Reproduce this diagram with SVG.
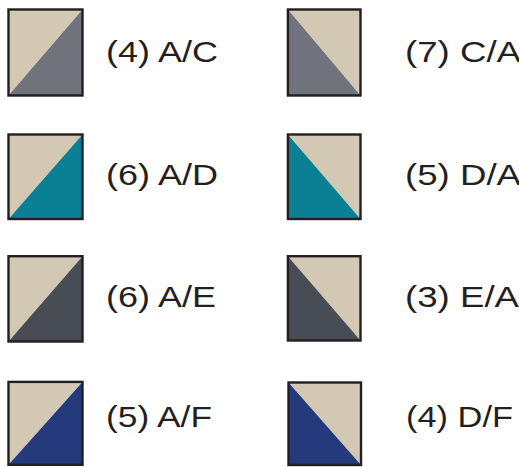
<svg xmlns="http://www.w3.org/2000/svg" width="519" height="467" viewBox="0 0 519 467">
<style>
.a{fill:#d3c8b4}
.c{fill:#70737c}
.d{fill:#0b7f93}
.e{fill:#474c55}
.f{fill:#243a7d}
.b{fill:none;stroke:#231f20;stroke-width:2.4}
.t{font-family:"Liberation Sans",Arial,sans-serif;font-size:29px;fill:#231f20}
</style>
<rect width="519" height="467" fill="#ffffff"/>
<g id="n1"><polygon class="a" points="8.5,9.5 82.5,9.5 8.5,95.5"/><polygon class="c" points="82.5,9.5 82.5,95.5 8.5,95.5"/><rect class="b" x="8.5" y="9.5" width="74" height="86"/><text class="t" x="106" y="62" textLength="112" lengthAdjust="spacingAndGlyphs">(4) A/C</text></g>
<g id="n2"><polygon class="a" points="287.9,9.5 360.5,9.5 360.5,95.5"/><polygon class="c" points="287.9,9.5 360.5,95.5 287.9,95.5"/><rect class="b" x="287.9" y="9.5" width="72.6" height="86"/><text class="t" x="405" y="62" textLength="116" lengthAdjust="spacingAndGlyphs">(7) C/A</text></g>
<g id="n3"><polygon class="a" points="8.5,134.5 82.5,134.5 8.5,219"/><polygon class="d" points="82.5,134.5 82.5,219 8.5,219"/><rect class="b" x="8.5" y="134.5" width="74" height="84.5"/><text class="t" x="106" y="184.5" textLength="112" lengthAdjust="spacingAndGlyphs">(6) A/D</text></g>
<g id="n4"><polygon class="a" points="287.9,134.5 360.5,134.5 360.5,219"/><polygon class="d" points="287.9,134.5 360.5,219 287.9,219"/><rect class="b" x="287.9" y="134.5" width="72.6" height="84.5"/><text class="t" x="405" y="184.5" textLength="116" lengthAdjust="spacingAndGlyphs">(5) D/A</text></g>
<g id="n5"><polygon class="a" points="8.5,256.2 82.5,256.2 8.5,341.5"/><polygon class="e" points="82.5,256.2 82.5,341.5 8.5,341.5"/><rect class="b" x="8.5" y="256.2" width="74" height="85.3"/><text class="t" x="106" y="306.7" textLength="110" lengthAdjust="spacingAndGlyphs">(6) A/E</text></g>
<g id="n6"><polygon class="a" points="287.9,256.2 360.5,256.2 360.5,340.5"/><polygon class="e" points="287.9,256.2 360.5,340.5 287.9,340.5"/><rect class="b" x="287.9" y="256.2" width="72.6" height="84.3"/><text class="t" x="405" y="306.7" textLength="114" lengthAdjust="spacingAndGlyphs">(3) E/A</text></g>
<g id="n7"><polygon class="a" points="8.5,381.9 82.5,381.9 8.5,464.8"/><polygon class="f" points="82.5,381.9 82.5,464.8 8.5,464.8"/><rect class="b" x="8.5" y="381.9" width="74" height="82.9"/><text class="t" x="106" y="426.5" textLength="106" lengthAdjust="spacingAndGlyphs">(5) A/F</text></g>
<g id="n8"><polygon class="a" points="288.5,382.5 361,382.5 361,465"/><polygon class="f" points="288.5,382.5 361,465 288.5,465"/><rect class="b" x="288.5" y="382.5" width="72.5" height="82.5"/><text class="t" x="406" y="426.5" textLength="107" lengthAdjust="spacingAndGlyphs">(4) D/F</text></g>
<g id="connectors"/>
</svg>
